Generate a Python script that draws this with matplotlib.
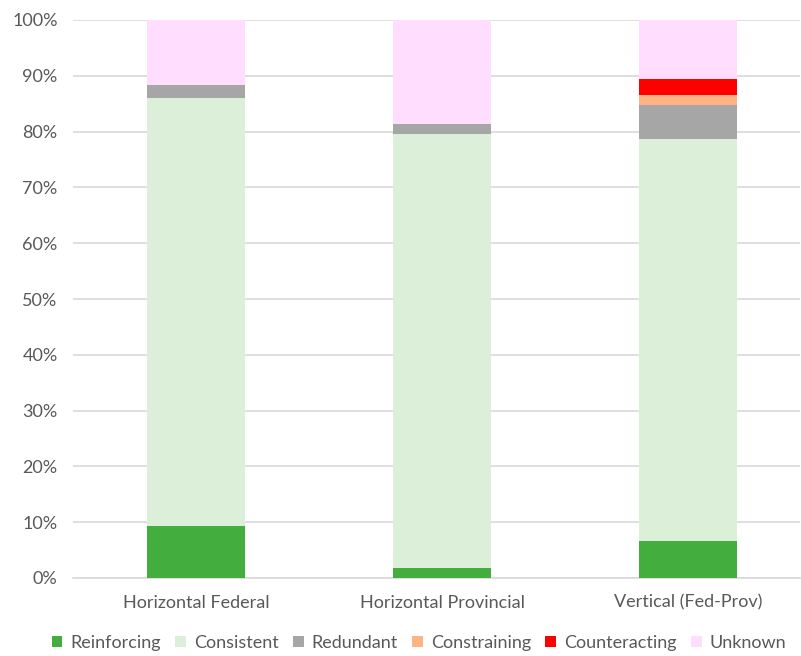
import numpy as np
import matplotlib.pyplot as plt
from matplotlib.ticker import PercentFormatter

categories = ["Horizontal Federal", "Horizontal Provincial", "Vertical (Fed-Prov)"]
series_names = ["Reinforcing", "Consistent", "Redundant", "Constraining", "Counteracting", "Unknown"]
colors = ["#43AD3E", "#DCEFD9", "#A6A6A6", "#FFB284", "#FF0000", "#FFDDFF"]

# shares in percent
reinforcing = [9.3, 1.8, 6.6]
consistent = [76.7, 77.7, 72.0]
redundant = [2.4, 1.9, 6.2]
constraining = [0.0, 0.0, 1.8]
counteracting = [0.0, 0.0, 2.8]
unknown = [11.6, 18.6, 10.6]

values = [reinforcing, consistent, redundant, constraining, counteracting, unknown]

plt.rcParams['font.family'] = ['Lato', 'DejaVu Sans']
fig = plt.figure(figsize=(8.01, 6.56), dpi=100, facecolor='white')
ax = fig.add_axes([73 / 801, 78 / 656, 727 / 801, 558 / 656])

x = np.arange(len(categories))
bottom = np.zeros(len(categories))
for name, vals, col in zip(series_names, values, colors):
    vals = np.array(vals)
    ax.bar(x, vals, 0.4, bottom=bottom, color=col, label=name, zorder=3)
    bottom += vals

ax.set_ylim(0, 100)
ax.set_xlim(-0.5, 2.455)
ax.set_yticks(np.arange(0, 101, 10))
ax.yaxis.set_major_formatter(PercentFormatter(decimals=0))
ax.set_xticks(x)
ax.set_xticklabels(categories)
ax.grid(axis='y', color='#D9D9D9', linewidth=1.2, zorder=0)
for s in ['top', 'right', 'left']:
    ax.spines[s].set_visible(False)
ax.spines['bottom'].set_color('#D9D9D9')
ax.spines['bottom'].set_linewidth(1.2)
ax.tick_params(axis='both', length=0, colors='#595959', labelsize=13)
ax.tick_params(axis='x', pad=12)
ax.tick_params(axis='y', pad=11)

fig.legend(loc='center', bbox_to_anchor=(419 / 801, 1 - 643 / 656), ncol=6,
           frameon=False, fontsize=13, handlelength=0.6, handleheight=0.6,
           handletextpad=0.45, columnspacing=0.78, labelcolor='#595959')

fig.savefig('out.png', dpi=100, facecolor='white')
